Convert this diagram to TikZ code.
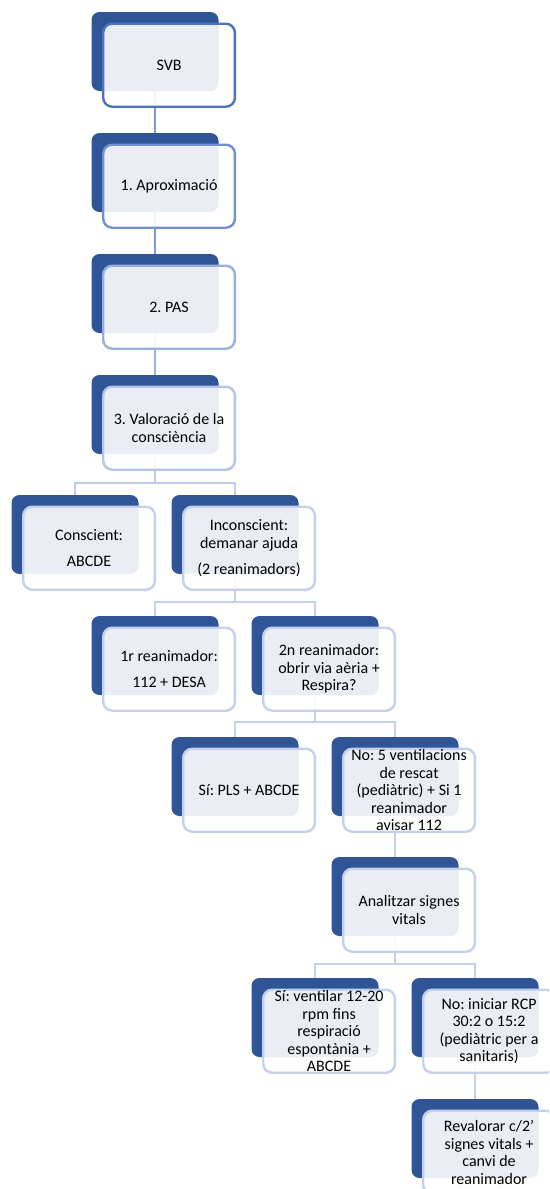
\documentclass[tikz,border=0pt]{standalone}
\usepackage{fontspec}
\setmainfont{Carlito}
\usetikzlibrary{backgrounds}
\frenchspacing
\definecolor{darkblue}{HTML}{2F5597}
\definecolor{bA}{HTML}{4A73C2}
\definecolor{bB}{HTML}{7391D1}
\definecolor{bC}{HTML}{98AFDF}
\definecolor{bD}{HTML}{B5C5E8}
\definecolor{bE}{HTML}{C5D0EB}
\definecolor{cA}{HTML}{7E9AD7}
\definecolor{cB}{HTML}{9BB0E0}
\definecolor{cC}{HTML}{B0C1E6}
\definecolor{cD}{HTML}{BECBEA}
\definecolor{cE}{HTML}{C5D0EB}
\tikzset{
  darkbox/.style={rectangle, rounded corners=8pt, fill=darkblue, minimum width=127pt, minimum height=79pt, inner sep=0pt, outer sep=0pt, anchor=north west},
  frontbox/.style={rectangle, rounded corners=9pt, fill=white, fill opacity=0.9, line width=2.4pt, minimum width=131.7pt, minimum height=83pt, inner sep=0pt, outer sep=0pt, anchor=north west},
  txt/.style={inner sep=0pt, align=center, text=black, font=\fontsize{16pt}{17.5pt}\selectfont},
  conn/.style={line width=2.4pt}
}
\newcommand\smbox[5]{%
  \node[darkbox] (#1d) at (#2-63.5,#3) {};
  \node[frontbox, draw=#4] (#1f) at (#2-51.8,#3+11.7) {};
  \node[txt] (#1t) at (#1f.center) {#5};
}
\begin{document}
\begin{tikzpicture}[x=1pt,y=-1pt]
\useasboundingbox (0,0) rectangle (549,1189);
\clip (0,0) rectangle (549,1189);
\smbox{svb}{155}{12}{bA}{SVB}
\smbox{apr}{155}{133}{bB}{1. Aproximació}
\smbox{pas}{155}{254}{bC}{2. PAS}
\smbox{val}{155}{375}{bD}{3. Valoració de la\\consciència}
\smbox{con}{75}{495}{bE}{Conscient:\\[8.5pt]ABCDE}
\smbox{inc}{235}{495}{bE}{Inconscient:\\demanar ajuda\\[8.5pt](2 reanimadors)}
\smbox{rone}{155}{616}{bE}{1r reanimador:\\[8.5pt]112 + DESA}
\smbox{rtwo}{315}{616}{bE}{2n reanimador:\\obrir via aèria +\\Respira?}
\smbox{sione}{235}{737}{bE}{Sí: PLS + ABCDE}
\smbox{noone}{395}{737}{bE}{No: 5 ventilacions\\de rescat\\(pediàtric) + Si 1\\reanimador\\avisar 112}
\smbox{ana}{395}{857}{bE}{Analitzar signes\\vitals}
\smbox{sitwo}{315}{978}{bE}{Sí: ventilar 12-20\\rpm fins\\respiració\\espontània +\\ABCDE}
\smbox{notwo}{475}{978}{bE}{No: iniciar RCP\\30:2 o 15:2\\(pediàtric per a\\sanitaris)}
\smbox{rev}{475}{1099}{bE}{Revalorar c/2’\\signes vitals +\\canvi de\\reanimador}
\begin{scope}[on background layer]
\draw[conn, cA] (svbd.south) -- (aprd.north);
\draw[conn, cA] (aprd.south) -- (pasd.north);
\draw[conn, cB] (pasd.south) -- (vald.north);
\draw[conn, cD] (vald.south) -- ++(0,29) -| (cond.north);
\draw[conn, cD] (vald.south) -- ++(0,29) -| (incd.north);
\draw[conn, cE] (incd.south) -- ++(0,28) -| (roned.north);
\draw[conn, cE] (incd.south) -- ++(0,28) -| (rtwod.north);
\draw[conn, cE] (rtwod.south) -- ++(0,27) -| (sioned.north);
\draw[conn, cE] (rtwod.south) -- ++(0,27) -| (nooned.north);
\draw[conn, cE] (nooned.south) -- (anad.north);
\draw[conn, cE] (anad.south) -- ++(0,28) -| (sitwod.north);
\draw[conn, cE] (anad.south) -- ++(0,28) -| (notwod.north);
\draw[conn, cE] (notwod.south) -- (revd.north);
\end{scope}
\end{tikzpicture}
\end{document}
